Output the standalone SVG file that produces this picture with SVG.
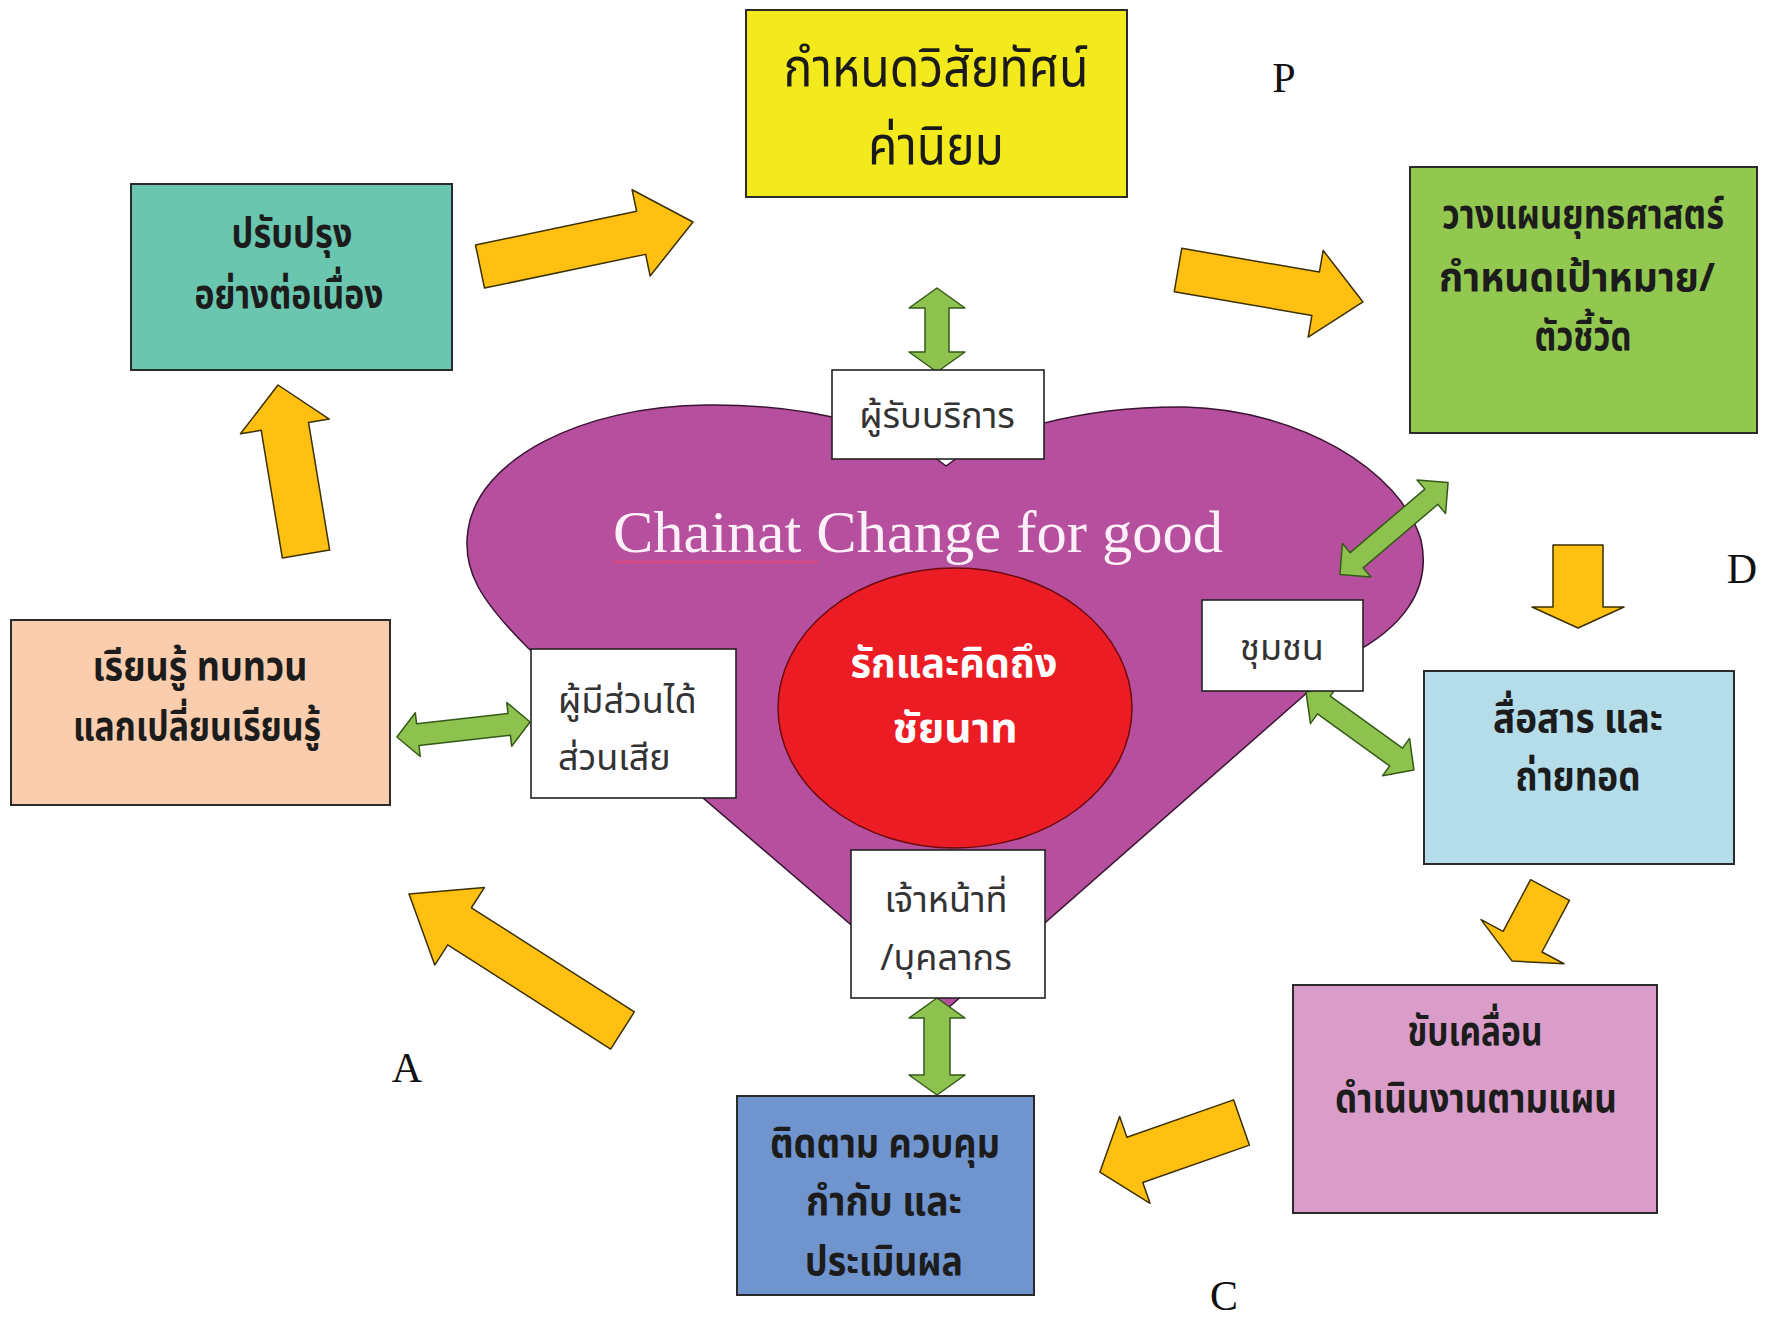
<svg xmlns="http://www.w3.org/2000/svg" width="1773" height="1317" viewBox="0 0 1773 1317">
<style>
.box{stroke:#2b2b2b;stroke-width:2}
.wbox{fill:#ffffff;stroke:#222;stroke-width:1.6}
.th{font-family:"Noto Sans Thai","Tahoma","DejaVu Sans","Noto Sans",sans-serif;text-anchor:middle}
.tb{font-size:40px;font-weight:bold;fill:#1c1c1c}
.tw{font-size:36px;fill:#333333}
.lt{font-family:"Liberation Serif","Times New Roman",serif;font-size:42px;fill:#111;text-anchor:middle}
.ya{fill:#FFC012;stroke:#3a3000;stroke-width:1.5;stroke-linejoin:round}
.ga{fill:#8EC24F;stroke:#355a18;stroke-width:1.5;stroke-linejoin:round}
</style>
<rect width="1773" height="1317" fill="#ffffff"/>

<g id="heart">
<path d="M948,1008 L528,648 C480,600 462,570 468,530 C478,460 580,406 707,405 C820,404 905,432 946,466 C990,432 1080,406 1185,407 C1300,410 1400,470 1421,540 C1432,590 1402,628 1350,655 Z" fill="#B64F9E" stroke="#3a1433" stroke-width="1.5"/>
<text x="613" y="552" font-family="Liberation Serif, Times New Roman, serif" font-size="60" fill="#FDF0F8" textLength="610" lengthAdjust="spacingAndGlyphs">Chainat Change for good</text>
<path d="M613,563 l2.5,-2 2.5,2 2.5,-2 2.5,2 2.5,-2 2.5,2 2.5,-2 2.5,2 2.5,-2 2.5,2 2.5,-2 2.5,2 2.5,-2 2.5,2 2.5,-2 2.5,2 2.5,-2 2.5,2 2.5,-2 2.5,2 2.5,-2 2.5,2 2.5,-2 2.5,2 2.5,-2 2.5,2 2.5,-2 2.5,2 2.5,-2 2.5,2 2.5,-2 2.5,2 2.5,-2 2.5,2 2.5,-2 2.5,2 2.5,-2 2.5,2 2.5,-2 2.5,2 2.5,-2 2.5,2 2.5,-2 2.5,2 2.5,-2 2.5,2 2.5,-2 2.5,2 2.5,-2 2.5,2 2.5,-2 2.5,2 2.5,-2 2.5,2 2.5,-2 2.5,2 2.5,-2 2.5,2 2.5,-2 2.5,2 2.5,-2 2.5,2 2.5,-2 2.5,2 2.5,-2 2.5,2 2.5,-2 2.5,2 2.5,-2 2.5,2 2.5,-2 2.5,2 2.5,-2 2.5,2 2.5,-2 2.5,2 2.5,-2 2.5,2 2.5,-2 2.5,2 2.5,-2 2.5,2" fill="none" stroke="#E8457A" stroke-width="1.4"/>
</g>

<g id="core">
<ellipse cx="955" cy="708" rx="177" ry="140" fill="#EC1C24" stroke="#6a0a0e" stroke-width="1.5"/>
<text class="th" font-size="40" font-weight="bold" fill="#ffffff"><tspan x="954" y="677" textLength="207" lengthAdjust="spacingAndGlyphs">รักและคิดถึง</tspan><tspan x="955" y="742" textLength="125" lengthAdjust="spacingAndGlyphs">ชัยนาท</tspan></text>
</g>

<g id="connectors">
<polygon class="ya" transform="translate(480,266.5) rotate(-11.8)" points="0,-22 164.6,-22 164.6,-44 217.6,0 164.6,44 164.6,22 0,22"/>
<polygon class="ya" transform="translate(1178,270) rotate(9.8)" points="0,-22 139.7,-22 139.7,-44 187.7,0 139.7,44 139.7,22 0,22"/>
<polygon class="ya" transform="translate(1578,545) rotate(90)" points="0,-25 62,-25 62,-46 83,0 62,46 62,25 0,25"/>
<polygon class="ya" transform="translate(1550,890) rotate(118)" points="0,-22 58.5,-22 58.5,-47 80.5,0 58.5,47 58.5,22 0,22"/>
<polygon class="ya" transform="translate(1241.5,1122.5) rotate(160.7)" points="0,-24 113,-24 113,-46 150,0 113,46 113,24 0,24"/>
<polygon class="ya" transform="translate(622.5,1030.5) rotate(-147.4)" points="0,-22 193.4,-22 193.4,-46 253.4,0 193.4,46 193.4,22 0,22"/>
<polygon class="ya" transform="translate(306,554) rotate(-99.4)" points="0,-24 129.3,-24 129.3,-45 171.3,0 129.3,45 129.3,24 0,24"/>
<polygon class="ga" transform="translate(937,330) rotate(90)" points="-42,0 -22,-28 -22,-12 22,-12 22,-28 42,0 22,28 22,12 -22,12 -22,28"/>
<polygon class="ga" transform="translate(937,1046.5) rotate(90)" points="-48.5,0 -28.5,-28 -28.5,-13 28.5,-13 28.5,-28 48.5,0 28.5,28 28.5,13 -28.5,13 -28.5,28"/>
<polygon class="ga" transform="translate(463.5,729.5) rotate(-6.4)" points="-67,0 -46,-22 -46,-11 46,-11 46,-22 67,0 46,22 46,11 -46,11 -46,22"/>
<polygon class="ga" transform="translate(1394,528.5) rotate(-40.4)" points="-71,0 -49,-22 -49,-10 49,-10 49,-22 71,0 49,22 49,10 -49,10 -49,22"/>
<polygon class="ga" transform="translate(1360,731) rotate(35.8)" points="-66.5,0 -44.5,-23 -44.5,-11 44.5,-11 44.5,-23 66.5,0 44.5,23 44.5,11 -44.5,11 -44.5,23"/>
</g>

<g id="vision">
<rect class="box" x="746" y="10" width="381" height="187" fill="#F3EA1D"/>
<text class="th" font-size="54" fill="#1a1a1a"><tspan x="936" y="86" textLength="305" lengthAdjust="spacingAndGlyphs">กำหนดวิสัยทัศน์</tspan><tspan x="936" y="164" textLength="136" lengthAdjust="spacingAndGlyphs">ค่านิยม</tspan></text>
</g>
<g id="plan">
<rect class="box" x="1410" y="167" width="347" height="266" fill="#92C850"/>
<text class="th tb" font-size="42"><tspan x="1583" y="228" textLength="282" lengthAdjust="spacingAndGlyphs">วางแผนยุทธศาสตร์</tspan><tspan x="1577" y="291" textLength="276" lengthAdjust="spacingAndGlyphs">กำหนดเป้าหมาย/</tspan><tspan x="1583" y="350" textLength="97" lengthAdjust="spacingAndGlyphs">ตัวชี้วัด</tspan></text>
</g>
<g id="improve">
<rect class="box" x="131" y="184" width="321" height="186" fill="#6BC6AF"/>
<text class="th tb" fill="#0b2a20"><tspan x="292" y="247" textLength="121" lengthAdjust="spacingAndGlyphs">ปรับปรุง</tspan><tspan x="289" y="308" textLength="189" lengthAdjust="spacingAndGlyphs">อย่างต่อเนื่อง</tspan></text>
</g>
<g id="learn">
<rect class="box" x="11" y="620" width="379" height="185" fill="#F9CDAE"/>
<text class="th tb"><tspan x="200" y="680" textLength="215" lengthAdjust="spacingAndGlyphs">เรียนรู้ ทบทวน</tspan><tspan x="197" y="740" textLength="248" lengthAdjust="spacingAndGlyphs">แลกเปลี่ยนเรียนรู้</tspan></text>
</g>
<g id="communicate">
<rect class="box" x="1424" y="671" width="310" height="193" fill="#B5DDE9"/>
<text class="th tb"><tspan x="1578" y="732" textLength="170" lengthAdjust="spacingAndGlyphs">สื่อสาร และ</tspan><tspan x="1578" y="790" textLength="125" lengthAdjust="spacingAndGlyphs">ถ่ายทอด</tspan></text>
</g>
<g id="drive">
<rect class="box" x="1293" y="985" width="364" height="228" fill="#DA9DC9"/>
<text class="th tb" fill="#2a0a24"><tspan x="1475" y="1045" textLength="135" lengthAdjust="spacingAndGlyphs">ขับเคลื่อน</tspan><tspan x="1476" y="1112" textLength="282" lengthAdjust="spacingAndGlyphs">ดำเนินงานตามแผน</tspan></text>
</g>
<g id="monitor">
<rect class="box" x="737" y="1096" width="297" height="199" fill="#7094CE"/>
<text class="th tb" fill="#0d1a33"><tspan x="885" y="1157" textLength="230" lengthAdjust="spacingAndGlyphs">ติดตาม ควบคุม</tspan><tspan x="884" y="1215" textLength="156" lengthAdjust="spacingAndGlyphs">กำกับ และ</tspan><tspan x="884" y="1275" textLength="158" lengthAdjust="spacingAndGlyphs">ประเมินผล</tspan></text>
</g>

<g id="customers">
<rect class="wbox" x="832" y="370" width="212" height="89"/>
<text class="th tw" x="937" y="428">ผู้รับบริการ</text>
</g>
<g id="stakeholders">
<rect class="wbox" x="531" y="649" width="205" height="149"/>
<text class="th tw" style="text-anchor:start"><tspan x="558" y="713">ผู้มีส่วนได้</tspan><tspan x="558" y="770">ส่วนเสีย</tspan></text>
</g>
<g id="community">
<rect class="wbox" x="1202" y="600" width="161" height="91"/>
<text class="th tw" font-size="34" x="1282" y="660">ชุมชน</text>
</g>
<g id="staff">
<rect class="wbox" x="851" y="850" width="194" height="148"/>
<text class="th tw" font-size="37"><tspan x="946" y="912">เจ้าหน้าที่</tspan><tspan x="946" y="970">/บุคลากร</tspan></text>
</g>

<g id="labels">
<text class="lt" x="1284" y="92">P</text>
<text class="lt" x="1742" y="583">D</text>
<text class="lt" x="407" y="1082">A</text>
<text class="lt" x="1224" y="1310">C</text>
</g>
</svg>
